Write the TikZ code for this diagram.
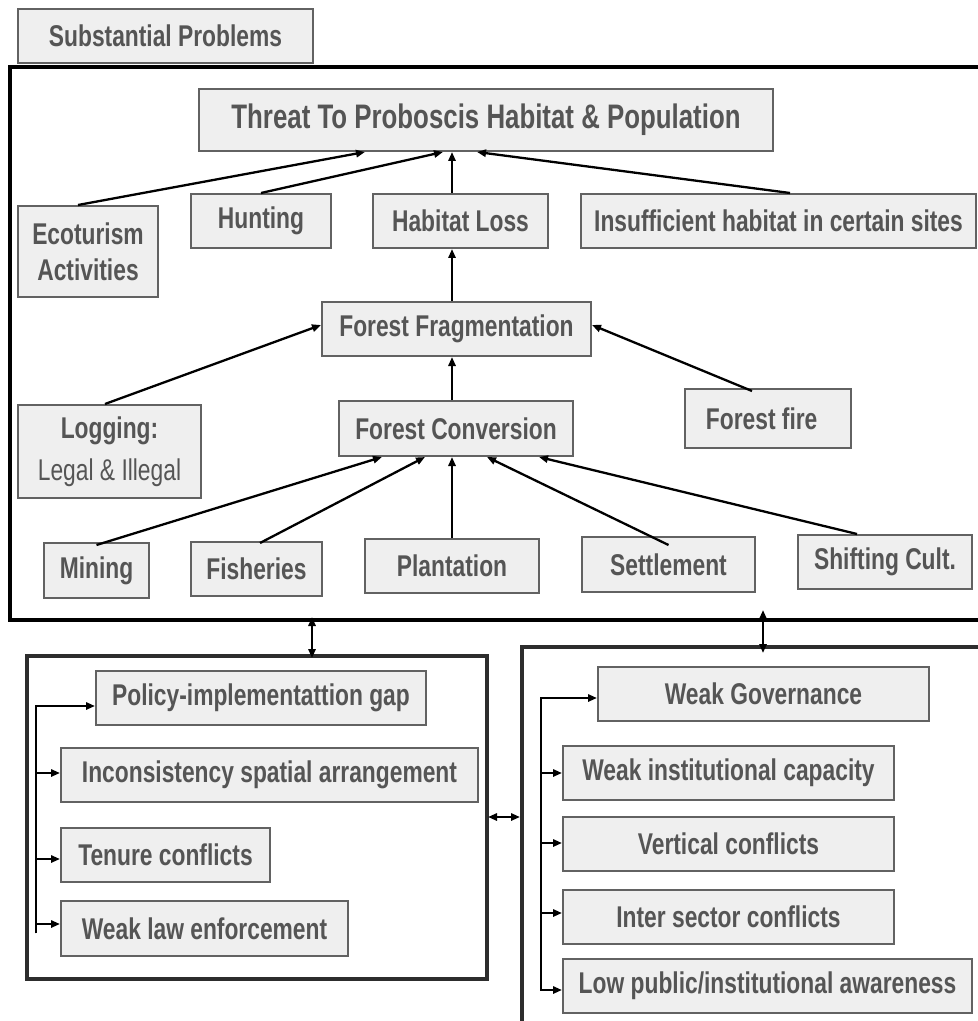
\documentclass[tikz,border=0pt]{standalone}
\usepackage{fontspec}
\setmainfont{Liberation Sans}[FakeStretch=0.76]
\usetikzlibrary{arrows.meta}
\definecolor{boxfill}{RGB}{239,239,239}
\definecolor{boxline}{RGB}{98,98,98}
\definecolor{txtgray}{RGB}{85,85,85}
\definecolor{framegray}{RGB}{45,45,45}
\tikzset{
  box/.style={draw=boxline, line width=1pt, fill=boxfill, text=txtgray, inner sep=0pt,
    font=\fontsize{15}{18}\selectfont\bfseries, minimum height=27pt, align=center},
  arr/.style={line width=1.15pt, -{Triangle[length=4.5pt,width=3.6pt]}},
  dbl/.style={line width=1.15pt, {Triangle[length=4.5pt,width=3.6pt]}-{Triangle[length=4.5pt,width=3.6pt]}},
  frame/.style={line width=1.6pt}
}
\begin{document}
\begin{tikzpicture}[x=0.5pt,y=0.5pt,yscale=-1,xscale=1]
\useasboundingbox (0,0) rectangle (978,1021);

%Frames
\draw[frame] (978,67) -- (10,67) -- (10,620) -- (978,620);
\draw[frame, draw=framegray] (27,656) rectangle (487,979);
\draw[frame, draw=framegray] (978,647) -- (522,647) -- (522,1021);

% Text Node
\node[box, minimum width=147.5pt] (subst) at (165.5,36) {Substantial Problems};
\node[box, minimum width=287pt, minimum height=31pt, font=\fontsize{17}{20}\selectfont\bfseries] (threat) at (486,120) {Threat To Proboscis Habitat \& Population};

% Text Node
\node[box, minimum width=70pt, minimum height=45.5pt] (eco) at (88,251.5) {Ecoturism\\Activities};
\node[box, minimum width=70pt] (hunt) at (261,221) {Hunting};
\node[box, minimum width=87.5pt] (hloss) at (460.5,221) {Habitat Loss};
\node[box, minimum width=197.5pt] (insuf) at (778.5,221) {Insufficient habitat in certain sites};

% Text Node
\node[box, minimum width=134.5pt] (frag) at (456.5,329) {Forest Fragmentation};
\node[box, minimum width=91.5pt, minimum height=46.5pt] (log) at (109.5,451.5) {Logging:\\[3pt]{\mdseries Legal \& Illegal}};
\node[box, minimum width=117pt, minimum height=27.5pt] (conv) at (456,428.5) {Forest Conversion};
\node[box, minimum width=83pt, minimum height=29.5pt] (fire) at (768,418.5) {Forest fire\ \ };

% Text Node
\node[box, minimum width=52.5pt, minimum height=27.5pt] (mining) at (96.5,570.5) {Mining};
\node[box, minimum width=65.5pt] (fish) at (256.5,569) {Fisheries};
\node[box, minimum width=87pt] (plant) at (452,566) {Plantation};
\node[box, minimum width=86.5pt, minimum height=27.5pt] (settle) at (668.5,564.5) {Settlement};
\node[box, minimum width=87pt] (shift) at (885,562) {Shifting Cult.};

% Text Node
\node[box, minimum width=165pt] (policy) at (261,698) {Policy-implementattion gap};
\node[box, minimum width=208.5pt] (incons) at (269.5,775) {Inconsistency spatial arrangement};
\node[box, minimum width=104.5pt] (tenure) at (165.5,855) {Tenure conflicts};
\node[box, minimum width=143.5pt, minimum height=27.5pt] (weaklaw) at (204.5,928.5) {Weak law enforcement};

% Text Node
\node[box, minimum width=165.5pt] (gov) at (763.5,694) {Weak Governance};
\node[box, minimum width=165.5pt] (inst) at (728.5,773) {Weak institutional capacity};
\node[box, minimum width=165.5pt] (vert) at (728.5,844) {Vertical conflicts};
\node[box, minimum width=165.5pt] (inter) at (728.5,917) {Inter sector conflicts};
\node[box, minimum width=204.5pt] (aware) at (767.5,986) {Low public/institutional awareness};

%Straight Lines
\draw[arr] ([xshift=-5pt]eco.north) -- ([xshift=-60.5pt]threat.south);
\draw[arr] (hunt.north) -- ([xshift=-21.5pt]threat.south);
\draw[arr] ([xshift=-4.25pt]hloss.north) -- ([xshift=-17pt]threat.south);
\draw[arr] ([xshift=5.75pt]insuf.north) -- ([xshift=-4.5pt]threat.south);

%Straight Lines
\draw[arr] ([xshift=-2.25pt]frag.north) -- ([xshift=-4.25pt]hloss.south);
\draw[arr] ([xshift=-2.25pt]log.north) -- ([yshift=-2pt]frag.west);
\draw[arr] ([xshift=-8pt,yshift=1.5pt]fire.north) -- ([yshift=-2pt]frag.east);
\draw[arr] ([xshift=-2pt]conv.north) -- ([xshift=-2.25pt]frag.south);

%Straight Lines
\draw[arr] ([yshift=1.5pt]mining.north) -- ([xshift=-37pt]conv.south);
\draw[arr] ([xshift=1.75pt,yshift=1pt]fish.north) -- ([xshift=-15.5pt]conv.south);
\draw[arr] (plant.north) -- ([xshift=-2pt]conv.south);
\draw[arr] ([yshift=4.5pt]settle.north) -- ([xshift=15.5pt]conv.south);
\draw[arr] ([xshift=-14pt]shift.north) -- ([xshift=41.5pt]conv.south);

%Double Arrows
\coordinate (upl) at (312,617);
\coordinate (dnl) at (312,658);
\coordinate (upr) at (763,610);
\coordinate (dnr) at (763,653);
\coordinate (lfb) at (488,817);
\coordinate (rtb) at (520,817);
\draw[dbl] (upl) -- (dnl);
\draw[dbl] (upr) -- (dnr);
\draw[dbl] (lfb) -- (rtb);

%Brackets
\coordinate (lbus) at (36,933);
\draw[arr] (lbus) |- ([yshift=4pt]policy.west);
\draw[arr] (lbus) |- ([yshift=-1pt]incons.west);
\draw[arr] (lbus) |- ([yshift=2pt]tenure.west);
\draw[arr] (lbus) |- ([yshift=-2.25pt]weaklaw.west);

\coordinate (rbus) at (541,982);
\draw[arr] (rbus) |- ([yshift=2pt]gov.west);
\draw[arr] (rbus) |- (inst.west);
\draw[arr] (rbus) |- ([yshift=-0.5pt]vert.west);
\draw[arr] (rbus) |- ([yshift=-2pt]inter.west);
\draw[arr] (rbus) |- ([yshift=2pt]aware.west);

\end{tikzpicture}
\end{document}
